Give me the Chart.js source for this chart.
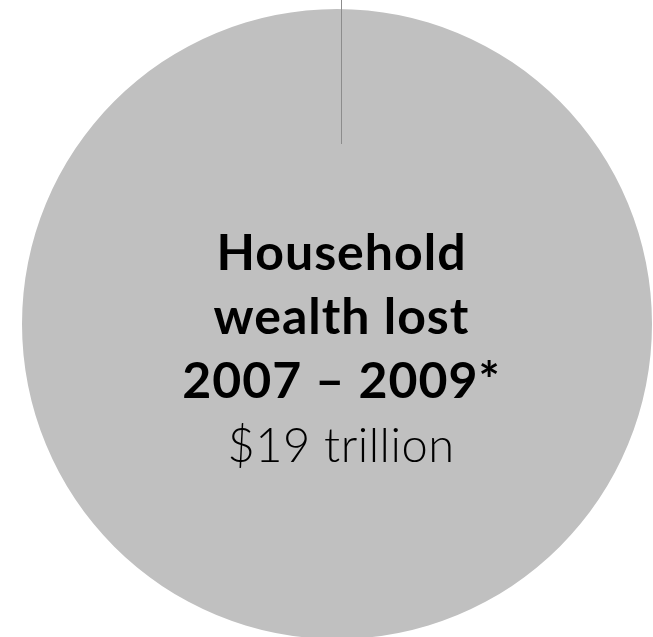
<!DOCTYPE html>
<html>
<head>
<meta charset="utf-8">
<script src="https://cdn.jsdelivr.net/npm/chart.js@4/dist/chart.umd.min.js"></script>
<style>
  html, body { margin: 0; padding: 0; background: #fff; overflow: hidden; }
  #wrap { width: 653px; height: 637px; overflow: hidden; }
</style>
</head>
<body>
<div id="wrap"><canvas id="wealthChart" width="653" height="660"></canvas></div>
<script>
// data
const categories = ['Household wealth lost 2007 – 2009*'];
const lossValues = [19];
const titleLines = ['Household', 'wealth lost', '2007 – 2009*'];
const valueLabel = '$19 trillion';

// writes the label in the middle of the circle, plus the leader line at the top
const centerText = {
    id: 'centerText',
    afterDraw(chart) {
        const ctx = chart.ctx;
        const arc = chart.getDatasetMeta(0).data[0];
        const cx = arc.x + 4;
        const top = arc.y - arc.outerRadius;

        ctx.save();
        // leader line
        ctx.strokeStyle = '#8c8c8c';
        ctx.lineWidth = 1;
        ctx.beginPath();
        ctx.moveTo(cx + 0.5, 0);
        ctx.lineTo(cx + 0.5, top + 135);
        ctx.stroke();

        ctx.fillStyle = '#000';
        ctx.textAlign = 'center';
        ctx.textBaseline = 'alphabetic';
        ctx.font = 'bold 50px Lato';
        ctx.letterSpacing = '1px';
        titleLines.forEach((line, i) => {
            ctx.fillText(line, cx + 0.5, 270 + i * 64);
        });
        ctx.font = '300 47px Lato';
        ctx.letterSpacing = '0.5px';
        ctx.fillText(valueLabel, cx, 462);
        ctx.restore();
    }
};

const ctx = document.getElementById('wealthChart').getContext('2d');
new Chart(ctx, {
    type: 'pie',
    data: {
        labels: categories,
        datasets: [{
            data: lossValues,
            backgroundColor: ['#c0c0c0'],
            borderWidth: 0,
            hoverOffset: 0
        }]
    },
    options: {
        responsive: false,
        animation: false,
        events: [],
        layout: {
            padding: { left: 22, right: 1, top: 9, bottom: 21 }
        },
        plugins: {
            legend: { display: false },
            tooltip: { enabled: false }
        }
    },
    plugins: [centerText]
});
</script>
</body>
</html>
